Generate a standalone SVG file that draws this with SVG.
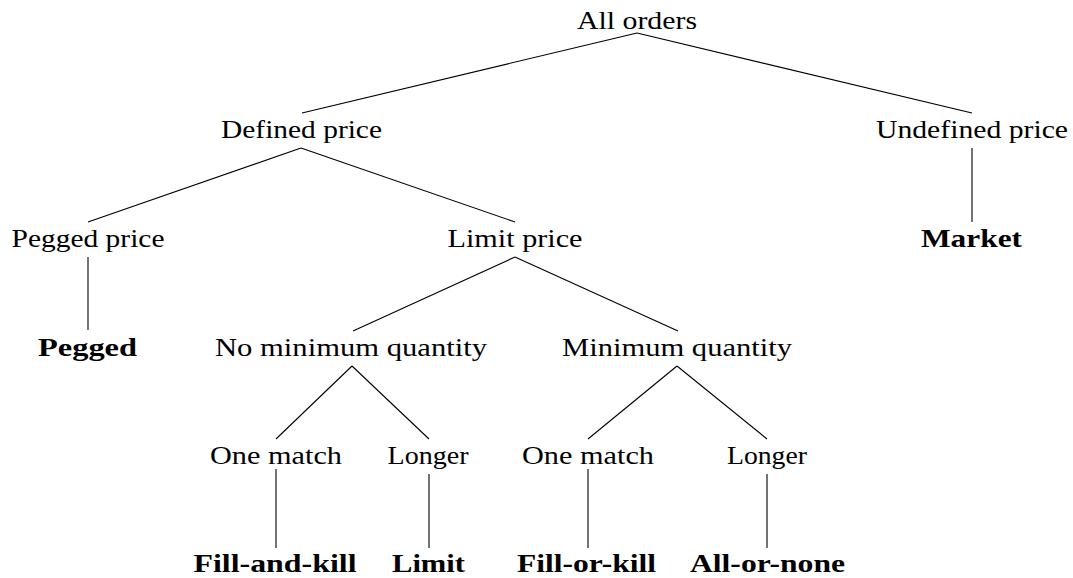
<svg xmlns="http://www.w3.org/2000/svg" width="1073" height="578" viewBox="0 0 1073 578">
<style>
text{font-family:"Liberation Serif","Times New Roman",serif;font-size:26px;fill:#000;text-anchor:middle}
.b{font-weight:bold}
#edges line{stroke:#000;stroke-width:1.1}
</style>
<rect width="1073" height="578" fill="#fff"/>
<g id="edges">
<line x1="637" y1="33" x2="302" y2="113"/>
<line x1="637" y1="33" x2="972" y2="113"/>
<line x1="301" y1="148" x2="88" y2="222"/>
<line x1="301" y1="148" x2="515" y2="222"/>
<line x1="972" y1="148" x2="972" y2="222"/>
<line x1="88" y1="257" x2="88" y2="330"/>
<line x1="515" y1="257" x2="353" y2="331"/>
<line x1="515" y1="257" x2="678" y2="331"/>
<line x1="352" y1="366" x2="276" y2="439"/>
<line x1="352" y1="366" x2="429" y2="439"/>
<line x1="677" y1="366" x2="588" y2="439"/>
<line x1="677" y1="366" x2="767" y2="439"/>
<line x1="276" y1="469" x2="276" y2="548"/>
<line x1="429" y1="474" x2="429" y2="548"/>
<line x1="588" y1="469" x2="588" y2="548"/>
<line x1="767" y1="474" x2="767" y2="548"/>
</g>
<g id="all-orders"><text x="637" y="29" textLength="120" lengthAdjust="spacingAndGlyphs">All orders</text></g>
<g id="defined-price"><text x="301.5" y="138" textLength="161" lengthAdjust="spacingAndGlyphs">Defined price</text></g>
<g id="undefined-price"><text x="972" y="138" textLength="192" lengthAdjust="spacingAndGlyphs">Undefined price</text></g>
<g id="pegged-price"><text x="88" y="247" textLength="153" lengthAdjust="spacingAndGlyphs">Pegged price</text></g>
<g id="limit-price"><text x="515" y="247" textLength="135" lengthAdjust="spacingAndGlyphs">Limit price</text></g>
<g id="market"><text class="b" x="971.5" y="247" textLength="101" lengthAdjust="spacingAndGlyphs">Market</text></g>
<g id="pegged"><text class="b" x="87.5" y="356" textLength="99" lengthAdjust="spacingAndGlyphs">Pegged</text></g>
<g id="no-min-qty"><text x="351" y="356" textLength="272" lengthAdjust="spacingAndGlyphs">No minimum quantity</text></g>
<g id="min-qty"><text x="677" y="356" textLength="230" lengthAdjust="spacingAndGlyphs">Minimum quantity</text></g>
<g id="one-match-1"><text x="276" y="464" textLength="132" lengthAdjust="spacingAndGlyphs">One match</text></g>
<g id="longer-1"><text x="428" y="464" textLength="81" lengthAdjust="spacingAndGlyphs">Longer</text></g>
<g id="one-match-2"><text x="588" y="464" textLength="132" lengthAdjust="spacingAndGlyphs">One match</text></g>
<g id="longer-2"><text x="767" y="464" textLength="80" lengthAdjust="spacingAndGlyphs">Longer</text></g>
<g id="fill-and-kill"><text class="b" x="275" y="572" textLength="163" lengthAdjust="spacingAndGlyphs">Fill-and-kill</text></g>
<g id="limit"><text class="b" x="428.5" y="572" textLength="73" lengthAdjust="spacingAndGlyphs">Limit</text></g>
<g id="fill-or-kill"><text class="b" x="586.5" y="572" textLength="139" lengthAdjust="spacingAndGlyphs">Fill-or-kill</text></g>
<g id="all-or-none"><text class="b" x="767.5" y="572" textLength="155" lengthAdjust="spacingAndGlyphs">All-or-none</text></g>
</svg>
